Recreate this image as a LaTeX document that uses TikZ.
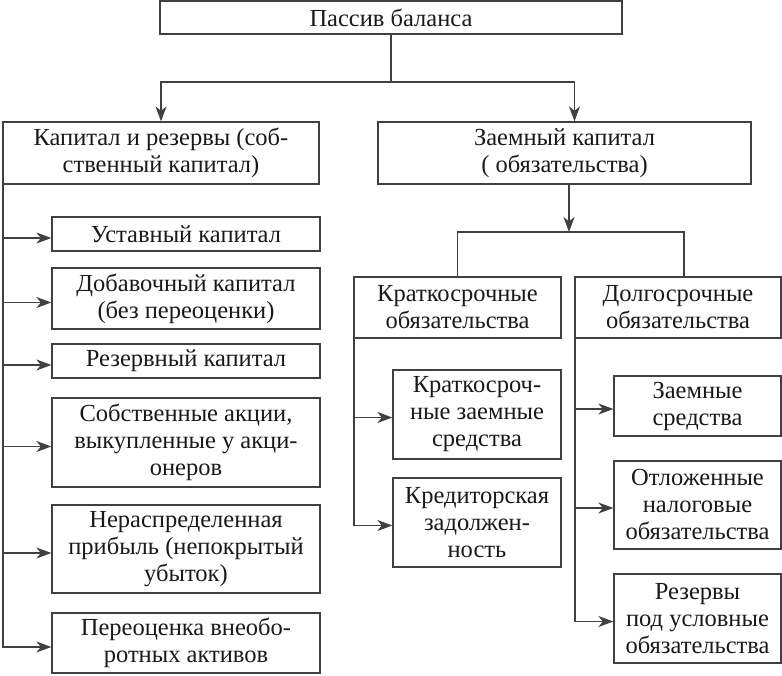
\documentclass[tikz,border=0pt]{standalone}
\usepackage{fontspec}
\setmainfont{Liberation Serif}
\usetikzlibrary{arrows.meta}

\tikzset{
    kasten/.style={draw=black!75, line width=1.3pt, align=center, inner sep=0pt, font=\fontsize{24.5}{27}\selectfont, text=black!90},
    pfeil/.style={draw=black!75, line width=1.3pt, -{Stealth[length=15pt, width=11pt, inset=4.5pt]}},
    linie/.style={draw=black!75, line width=1.3pt}
}

\begin{document}
\begin{tikzpicture}[x=1pt, y=-1pt]
    \useasboundingbox (0,0) rectangle (782,675);
    \path node[kasten, minimum width=462, minimum height=33] (PB) at (391,17.5) {Пассив баланса}
        node[kasten, minimum width=316, minimum height=62] (KR) at (161,153) {Капитал и резервы (соб-\\ственный капитал)}
        node[kasten, minimum width=373, minimum height=62] (ZK) at (564.5,153) {Заемный капитал\\( обязательства)}
        node[kasten, minimum width=207, minimum height=61] (KO) at (457.5,307.5) {Краткосрочные\\обязательства}
        node[kasten, minimum width=206, minimum height=61] (DO) at (678,307.5) {Долгосрочные\\обязательства}
        node[kasten, minimum width=268, minimum height=34] (UK) at (186,234) {Уставный капитал}
        node[kasten, minimum width=268, minimum height=61] (DK) at (186,298.5) {Добавочный капитал\\(без переоценки)}
        node[kasten, minimum width=268, minimum height=34] (RK) at (186,361) {Резервный капитал}
        node[kasten, minimum width=268, minimum height=89] (SA) at (186,442.5) {Собственные акции,\\выкупленные у акци-\\онеров}
        node[kasten, minimum width=268, minimum height=88] (NP) at (186,549) {Нераспределенная\\прибыль (непокрытый\\убыток)}
        node[kasten, minimum width=268, minimum height=60] (PA) at (186,643) {Переоценка внеобо-\\ротных активов}
        node[kasten, minimum width=168, minimum height=89] (KZ) at (477,414.5) {Краткосроч-\\ные заемные\\средства}
        node[kasten, minimum width=168, minimum height=89] (KD) at (477,522.5) {Кредиторская\\задолжен-\\ность}
        node[kasten, minimum width=167, minimum height=60] (ZS) at (697.5,406) {Заемные\\средства}
        node[kasten, minimum width=167, minimum height=88] (ON) at (697.5,505) {Отложенные\\налоговые\\обязательства}
        node[kasten, minimum width=167, minimum height=89] (RU) at (697.5,618.5) {Резервы\\под условные\\обязательства};
    \coordinate (PBsplit) at (391,82);
    \coordinate (ZKsplit) at (569,232);
    \draw[linie] (PB.south) -- (PBsplit);
    \draw[pfeil] (PBsplit) -| (KR.north);
    \draw[pfeil] (PBsplit) -| ([xshift=10]ZK.north);
    \draw[pfeil] ([xshift=4.5]ZK.south) -- (ZKsplit);
    \draw[linie] (ZKsplit) -| (KO.north);
    \draw[linie] (ZKsplit) -| ([xshift=6]DO.north);
    \foreach \ziel in {UK, DK, RK, SA, NP, PA}
        \draw[pfeil] ([xshift=0.65pt]KR.south west) |- ([yshift=-4]\ziel.west);
    \foreach \ziel in {KZ, KD}
        \draw[pfeil] ([xshift=0.65pt]KO.south west) |- ([yshift=-3]\ziel.west);
    \foreach \ziel in {ZS, ON, RU}
        \draw[pfeil] ([xshift=0.65pt]DO.south west) |- ([yshift=-3]\ziel.west);
\end{tikzpicture}
\end{document}
